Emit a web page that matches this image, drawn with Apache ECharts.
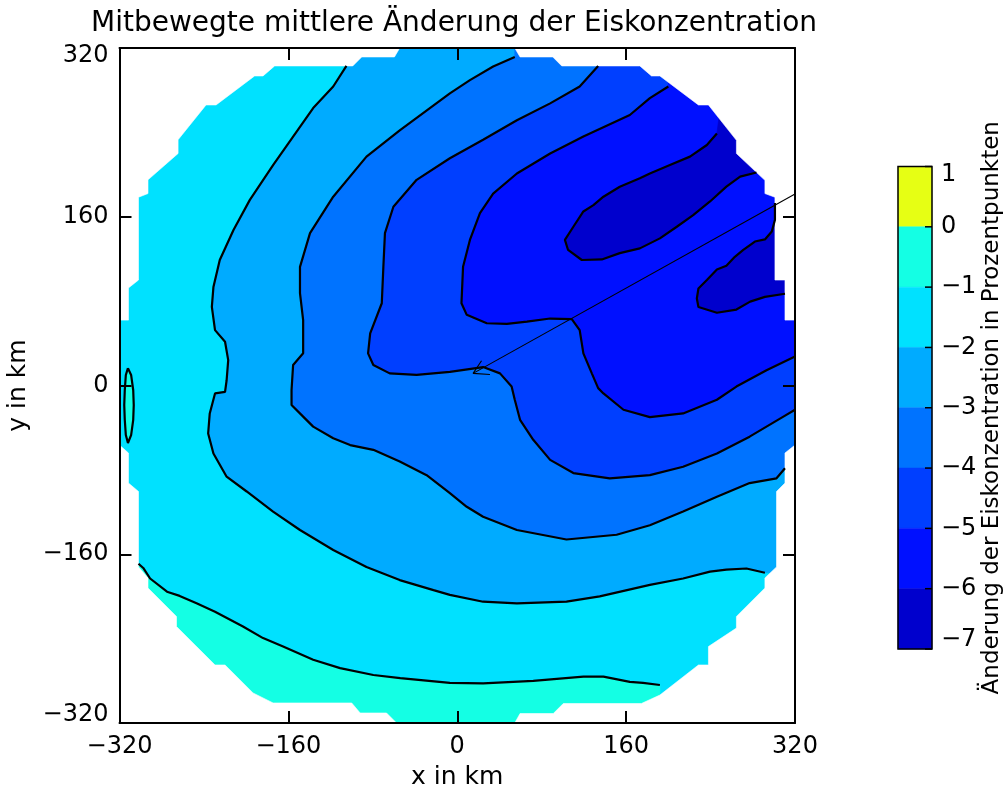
<!DOCTYPE html>
<html>
<head>
<meta charset="utf-8">
<script src="https://cdn.jsdelivr.net/npm/echarts@6/dist/echarts.min.js"></script>
<style>
  html, body { margin: 0; padding: 0; background: #fff; }
  #chart { width: 1005px; height: 789px; }
</style>
</head>
<body>
<div id="chart"></div>
<script>
// ---- data (km, percentage points) ----
const axisTicks = [-320, -160, 0, 160, 320];
const levels = [1, 0, -1, -2, -3, -4, -5, -6, -7];

// contour lines, in km
const contourM1 = [[-302,-169],[-297.5,-173],[-291,-183],[-275,-195.5],[-263,-199.5],[-247,-206.5],[-229.5,-214.5],[-203,-228.5],[-184,-239.5],[-165,-247.5],[-136.5,-260],[-111,-268],[-79.5,-274.5],[-54,-277.5],[-7,-282],[24.5,-282.5],[72,-280],[119.5,-276],[138.5,-276],[163.5,-281],[176,-282],[192,-284]];
const contourM2 = [[-105,303],[-117.5,283.5],[-136.5,263],[-155.5,236],[-174.5,209],[-196.5,176],[-212,147.5],[-225,119],[-231,93.5],[-232.5,74.5],[-229.5,52.5],[-220,41.5],[-217,24],[-218.5,5],[-220,-6],[-229.5,-7.5],[-234.5,-26.5],[-236,-45.5],[-231,-64.5],[-218.5,-86.5],[-199.5,-100.5],[-174.5,-119.5],[-149,-137],[-117.5,-156],[-86,-172],[-54.5,-184.5],[-22.5,-194],[-7,-198.5],[24.5,-205],[56.5,-206.5],[103.5,-205],[135,-200],[182.5,-189],[214,-183],[239.5,-176.5],[255,-174.5],[274,-173.5],[291.5,-177.5]];
const contourM3 = [[54.5,311.5],[34,302.5],[12,289.5],[-7,277],[-54.5,242],[-86,217],[-117.5,179],[-139.5,144.5],[-149,112.5],[-149,87.5],[-146,62],[-146,30.5],[-155.5,19.5],[-157,-4.5],[-157,-18.5],[-146,-29.5],[-136.5,-39],[-117.5,-50],[-101.5,-56.5],[-79.5,-61],[-54.5,-72],[-29,-85],[-7,-102],[9,-115],[24.5,-124.5],[56.5,-137],[103.5,-146],[151,-141.5],[182.5,-132.5],[214,-119.5],[246,-105.5],[277,-92.5],[302.5,-88],[310.5,-78.5]];
const contourM4 = [[133.5,303],[116,283.5],[88,267.5],[56.5,251.5],[24.5,233],[-7,215.5],[-38.5,195],[-60.5,169.5],[-68.5,144.5],[-70,112.5],[-71.5,78],[-82.5,49.5],[-84.5,30.5],[-79.5,19.5],[-64,11.5],[-38.5,10],[-7,13],[24.5,17.5],[40.5,11.5],[51.5,-1],[54.5,-13.5],[59.5,-32.5],[72,-51.5],[88,-70.5],[110,-83],[144.5,-88],[182.5,-85],[214,-77],[246,-64.5],[277,-48.5],[309,-29.5],[320,-23]];
const contourM5 = [[200,283.5],[182.5,272.5],[163.5,256.5],[119.5,236],[88,220],[56.5,201],[34,182],[21.5,163.5],[12,138],[5.5,112.5],[4,78],[9,67],[28,59],[47,58.5],[66,60.5],[88,63.5],[108.5,63],[116,52.5],[119.5,30.5],[127.5,11.5],[133.5,-2.5],[138.5,-7.5],[157.5,-23],[182.5,-30],[214,-26.5],[246,-13.5],[264.5,-1],[293,14.5],[320,27.5]];
const contourM6a = [[246,239],[236.5,228],[220.5,217],[201.5,209],[182.5,201],[173,196.5],[154,188.5],[138.5,179],[129,171],[119.5,165],[110,150.5],[102,138],[105,128.5],[118,119],[137,119.5],[154,125.5],[173,130],[192,139.5],[208,150.5],[223.5,161.5],[239.5,174.5],[255,188.5],[268,198],[283.5,202]];
const contourM6b = [[301,173],[301,157],[298,146],[291.5,138.5],[282,136.5],[271,128.5],[263,122],[255,113.5],[246,110],[236.5,100],[228.5,92],[227,82.5],[228.5,74.5],[246,69],[264.5,72],[277.5,79.5],[291.5,84],[310.5,87]];
const contourM0Left = [[-312,16.5],[-309,10],[-307,-4.5],[-306.5,-18.5],[-307,-32.5],[-309,-47],[-312,-54.5],[-314,-47],[-315,-32.5],[-315.5,-18.5],[-315,-4.5],[-314,10],[-312,16.5]];

// drift vector: tail at the frame, head near the origin
const driftTail = [320, 181.5];
const driftHead = [15, 11.5];
const driftWings = [[23, 23.5], [31, 10.5]];

// edge of the data domain, one run per corner of the frame
const edgeNE = [[54.5,320],[59.5,311.5],[90.5,311.5],[99,303],[173,303],[184,293.5],[192,293.5],[228.5,266],[238,266],[264.5,232.5],[264.5,220],[291.5,194.5],[291.5,182],[301,178.5],[301,100],[310.5,100],[310.5,62],[320,62]];
const edgeSE = [[320,-56.5],[310.5,-64],[310.5,-92.5],[302.5,-100.5],[302.5,-172],[291.5,-182.5],[291.5,-192],[264.5,-219],[264.5,-230],[238,-247.5],[238,-265],[228.5,-265],[192,-293.5],[174.5,-301.5],[100.5,-301.5],[91,-311],[59.5,-311],[54.5,-320]];
const edgeSW = [[-57.5,-320],[-67,-310.5],[-92,-310.5],[-100,-301],[-174.5,-301],[-193.5,-291.5],[-220,-265],[-229.5,-265],[-266,-228.5],[-266,-219],[-293,-192],[-293,-182.5],[-302,-172],[-302,-100.5],[-311.5,-92.5],[-311.5,-64],[-320,-56.5]];
const edgeNW = [[-320,62],[-311.5,62],[-311.5,92.5],[-302,100],[-302,178.5],[-293,182],[-293,195],[-264.5,220],[-264.5,233],[-238,266],[-228.5,266],[-192,293.5],[-184,293.5],[-173,303],[-99,303],[-90.5,311.5],[-59.5,311.5],[-54.5,320]];

// ---- styles ----
const FONT = 'DejaVu Sans';
const bandPalette = ['#e6ff14', '#14ffe4', '#00e1ff', '#00abff', '#0073ff', '#003fff', '#0010ff', '#0000cd'];
const colorOf = (hi) => bandPalette[levels.indexOf(hi)];
const minus = (v) => (v < 0 ? '\u2212' + Math.abs(v) : String(v));

const lim = axisTicks[axisTicks.length - 1];
const lvTop = levels[0];
const lvBottom = levels[levels.length - 1];

// filled areas: each band is the region below a contour level, closed outside the domain
const fills = [
  { pts: [[-lim,-lim],[lim,-lim],[lim,lim],[-lim,lim]], color: colorOf(-1) },
  { pts: contourM1.concat([[192,-lim],[-lim,-lim],[-lim,-169]]), color: colorOf(0) },
  { pts: contourM0Left, color: colorOf(0) },
  { pts: contourM2.concat([[lim,-177.5],[lim,lim],[-105,lim]]), color: colorOf(-2) },
  { pts: contourM3.concat([[lim,-78.5],[lim,lim],[54.5,lim]]), color: colorOf(-3) },
  { pts: contourM4.concat([[lim,lim],[133.5,lim]]), color: colorOf(-4) },
  { pts: contourM5.concat([[lim,lim],[200,lim]]), color: colorOf(-5) },
  { pts: contourM6a.concat([[300,215],[275,262],[250,270]]), color: colorOf(-6) },
  { pts: contourM6b.concat([[lim,87],[lim,173]]), color: colorOf(-6) }
];
const masks = [
  edgeNE.concat([[lim, lim]]),
  edgeSE.concat([[lim, -lim]]),
  edgeSW.concat([[-lim, -lim]]),
  edgeNW.concat([[-lim, lim]])
];

function polygonSeries(pts, color, z) {
  return {
    type: 'custom', coordinateSystem: 'cartesian2d', xAxisIndex: 0, yAxisIndex: 0,
    z: z, silent: true, clip: true,
    data: [pts[0]],
    renderItem: function (params, api) {
      return {
        type: 'polygon',
        shape: { points: pts.map(function (p) { return api.coord(p); }) },
        style: { fill: color, stroke: color, lineWidth: 0.6 }
      };
    }
  };
}
function lineSeries(pts, width, z) {
  return {
    type: 'line', xAxisIndex: 0, yAxisIndex: 0, data: pts,
    showSymbol: false, symbol: 'none', silent: true, clip: true, z: z,
    lineStyle: { color: '#000', width: width }
  };
}

const series = [];
fills.forEach(function (f) { series.push(polygonSeries(f.pts, f.color, 1)); });
masks.forEach(function (m) { series.push(polygonSeries(m, '#ffffff', 2)); });
[contourM1, contourM2, contourM3, contourM4, contourM5, contourM6a, contourM6b, contourM0Left]
  .forEach(function (c) { series.push(lineSeries(c, 2.2, 3)); });
series.push(lineSeries([driftTail, driftHead], 1.1, 4));
series.push(lineSeries([driftWings[0], driftHead, driftWings[1]], 1.1, 4));

// colour bar: one rectangle per band
const bandData = levels.slice(1).map(function (lo, i) { return [0, lo, levels[i], i]; });
series.push({
  type: 'custom', coordinateSystem: 'cartesian2d', xAxisIndex: 2, yAxisIndex: 2,
  silent: true, encode: { x: 0, y: [1, 2] }, data: bandData,
  renderItem: function (params, api) {
    const a = api.coord([0, api.value(2)]);
    const b = api.coord([1, api.value(1)]);
    return {
      type: 'rect',
      shape: { x: a[0], y: a[1], width: b[0] - a[0], height: b[1] - a[1] },
      style: { fill: bandPalette[api.value(3)], stroke: bandPalette[api.value(3)], lineWidth: 0.5 }
    };
  }
});
// colour bar frame and level ticks on its right edge
series.push({
  type: 'custom', coordinateSystem: 'cartesian2d', xAxisIndex: 2, yAxisIndex: 2,
  silent: true, z: 5, data: [[0, lvBottom]],
  renderItem: function (params, api) {
    const a = api.coord([0, lvTop]);
    const b = api.coord([1, lvBottom]);
    const children = [{
      type: 'rect',
      shape: { x: a[0], y: a[1], width: b[0] - a[0], height: b[1] - a[1] },
      style: { fill: null, stroke: '#000', lineWidth: 1.5 }
    }];
    levels.forEach(function (lv) {
      const p = api.coord([1, lv]);
      children.push({
        type: 'line',
        shape: { x1: p[0] - 7, y1: p[1], x2: p[0], y2: p[1] },
        style: { stroke: '#000', lineWidth: 1.5 }
      });
    });
    return { type: 'group', children: children };
  }
});

const frameAxis = {
  type: 'value', min: -lim, max: lim, interval: 160, z: 10, gridIndex: 0,
  axisLine: { show: true, onZero: false, lineStyle: { color: '#000', width: 2 } },
  axisTick: { show: true, inside: true, length: 12, lineStyle: { color: '#000', width: 2 } },
  splitLine: { show: false }
};
const labelText = { color: '#000', fontFamily: FONT, fontSize: 24 };
const nameText = { color: '#000', fontFamily: FONT, fontSize: 25 };

const chart = echarts.init(document.getElementById('chart'), null, { renderer: 'canvas' });
chart.setOption({
  animation: false,
  backgroundColor: '#fff',
  title: {
    text: 'Mitbewegte mittlere \u00c4nderung der Eiskonzentration',
    left: 86, top: 5,
    textStyle: { color: '#000', fontFamily: FONT, fontSize: 28, fontWeight: 'normal' }
  },
  grid: [
    { left: 119.5, top: 48, width: 675.5, height: 675, containLabel: false, outerBoundsMode: 'none' },
    { left: 898, top: 166.5, width: 34, height: 482.5, containLabel: false, outerBoundsMode: 'none' }
  ],
  xAxis: [
    Object.assign({}, frameAxis, {
      position: 'bottom',
      axisLabel: Object.assign({ margin: 12, formatter: minus }, labelText),
      name: 'x in km', nameLocation: 'middle', nameGap: 42,
      nameTextStyle: nameText
    }),
    Object.assign({}, frameAxis, { position: 'top', axisLabel: { show: false } }),
    { type: 'value', gridIndex: 1, min: 0, max: 1, show: false }
  ],
  yAxis: [
    Object.assign({}, frameAxis, {
      position: 'left',
      axisLabel: Object.assign({
        margin: 11,
        formatter: function (v) {
          if (v === lim) return '{hi|' + minus(v) + '}';
          if (v === -lim) return '{lo|' + minus(v) + '}';
          return minus(v);
        },
        rich: {
          hi: Object.assign({ padding: [16, 0, 0, 0] }, labelText),
          lo: Object.assign({ padding: [0, 0, 16, 0] }, labelText)
        }
      }, labelText),
      name: 'y in km', nameLocation: 'middle', nameGap: 89, nameRotate: 90,
      nameTextStyle: nameText
    }),
    Object.assign({}, frameAxis, { position: 'right', axisLabel: { show: false } }),
    {
      type: 'value', gridIndex: 1, min: lvBottom, max: lvTop, interval: 1,
      position: 'right', z: 10,
      axisLine: { show: false },
      axisTick: { show: false },
      splitLine: { show: false },
      axisLabel: Object.assign({
        margin: 9,
        formatter: function (v) {
          if (v === lvTop) return '{hi|' + minus(v) + '}';
          if (v === lvBottom) return '{lo|' + minus(v) + '}';
          return minus(v);
        },
        rich: {
          hi: Object.assign({ padding: [16, 0, 0, 0] }, labelText),
          lo: Object.assign({ padding: [0, 0, 18, 0] }, labelText)
        }
      }, labelText),
      name: '\u00c4nderung der Eiskonzentration in Prozentpunkten',
      nameLocation: 'middle', nameGap: 48, nameRotate: 90,
      nameTextStyle: { color: '#000', fontFamily: FONT, fontSize: 23 }
    }
  ],
  series: series
});
</script>
</body>
</html>
